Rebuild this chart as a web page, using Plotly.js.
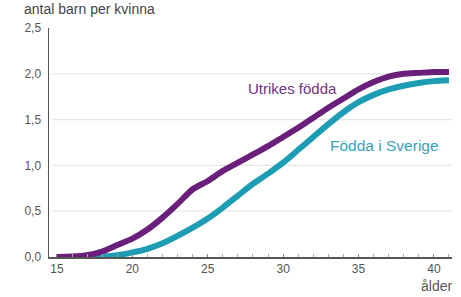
<!DOCTYPE html>
<html>
<head>
<meta charset="utf-8">
<script src="https://cdn.plot.ly/plotly-3.0.1.min.js"></script>
<style>html,body{margin:0;padding:0;background:#fff;}#chart{width:461px;height:297px;}</style>
</head>
<body>
<div id="chart"></div>
<script>
const ages = [15,16,17,18,19,20,21,22,23,24,25,26,27,28,29,30,31,32,33,34,35,36,37,38,39,40,41];
const utrikesFodda = [0.0,0.005,0.02,0.06,0.13,0.20,0.30,0.43,0.58,0.74,0.83,0.94,1.03,1.12,1.21,1.31,1.41,1.52,1.63,1.73,1.83,1.91,1.97,2.00,2.01,2.02,2.02];
const foddaISverige = [0.0,0.0,0.0,0.005,0.02,0.05,0.09,0.15,0.23,0.32,0.42,0.54,0.67,0.80,0.91,1.03,1.17,1.31,1.45,1.58,1.69,1.77,1.83,1.87,1.90,1.92,1.93];
const xTicks = [15,20,25,30,35,40];
const yTicks = [0,0.5,1.0,1.5,2.0,2.5];
const gridVals = [0.5,1.0,1.5,2.0];
const seriesNames = ["Utrikes födda","Födda i Sverige"];
const yTitle = "antal barn per kvinna";
const xTitle = "ålder";

const purple = "#6a1f7b";
const teal = "#1c9db3";

const traces = [
  {x: ages, y: foddaISverige, type: "scatter", mode: "lines", name: seriesNames[1],
   line: {color: teal, width: 6, shape: "spline", smoothing: 0.6}, hoverinfo: "skip"},
  {x: ages, y: utrikesFodda, type: "scatter", mode: "lines", name: seriesNames[0],
   line: {color: purple, width: 6, shape: "spline", smoothing: 0.6}, hoverinfo: "skip"}
];

const shapes = gridVals.map(v => ({
  type: "line", xref: "paper", yref: "y", x0: 0.01, x1: 1, y0: v, y1: v,
  line: {color: "#e6e6e6", width: 1.2}, layer: "below"
}));

const layout = {
  width: 461, height: 297,
  margin: {l: 49, r: 9, t: 28, b: 40},
  paper_bgcolor: "#fff", plot_bgcolor: "#fff",
  showlegend: false,
  separators: ", ",
  font: {family: "Liberation Sans, Arial, sans-serif", color: "#555", size: 12},
  xaxis: {
    range: [14.47, 41.2], showgrid: false, zeroline: false,
    showline: true, linecolor: "#555", linewidth: 2,
    tickvals: xTicks, ticktext: xTicks.map(String),
    ticks: "inside", ticklen: 3, tickcolor: "#888", tickwidth: 1,
    minor: {dtick: 1, tick0: 15, ticks: "inside", ticklen: 3, tickcolor: "#aaa", tickwidth: 1},
    tickfont: {size: 12, color: "#555"}, fixedrange: true
  },
  yaxis: {
    range: [0, 2.5], showgrid: false, zeroline: false,
    showline: true, linecolor: "#555", linewidth: 1.5,
    tickvals: yTicks, tickformat: ".1f", ticks: "", ticklabelstandoff: 4,
    tickfont: {size: 12, color: "#555"}, fixedrange: true
  },
  shapes: shapes,
  annotations: [
    {xref: "paper", yref: "paper", x: -0.067, y: 1.0, yshift: 9, xanchor: "left", yanchor: "bottom",
     text: yTitle, showarrow: false, font: {size: 14, color: "#444"}},
    {xref: "x", yref: "paper", x: 40.2, y: 0, yshift: -19, xanchor: "center", yanchor: "top",
     text: xTitle, showarrow: false, font: {size: 14, color: "#555"}},
    {xref: "x", yref: "y", x: 30.6, y: 1.84, xanchor: "center", yanchor: "middle",
     text: seriesNames[0], showarrow: false, font: {size: 15, color: "#6e3580"}},
    {xref: "x", yref: "y", x: 36.75, y: 1.22, xanchor: "center", yanchor: "middle",
     text: seriesNames[1], showarrow: false, font: {size: 15.5, color: "#37a3bd"}}
  ]
};

Plotly.newPlot("chart", traces, layout, {displayModeBar: false, staticPlot: true});
</script>
</body>
</html>
